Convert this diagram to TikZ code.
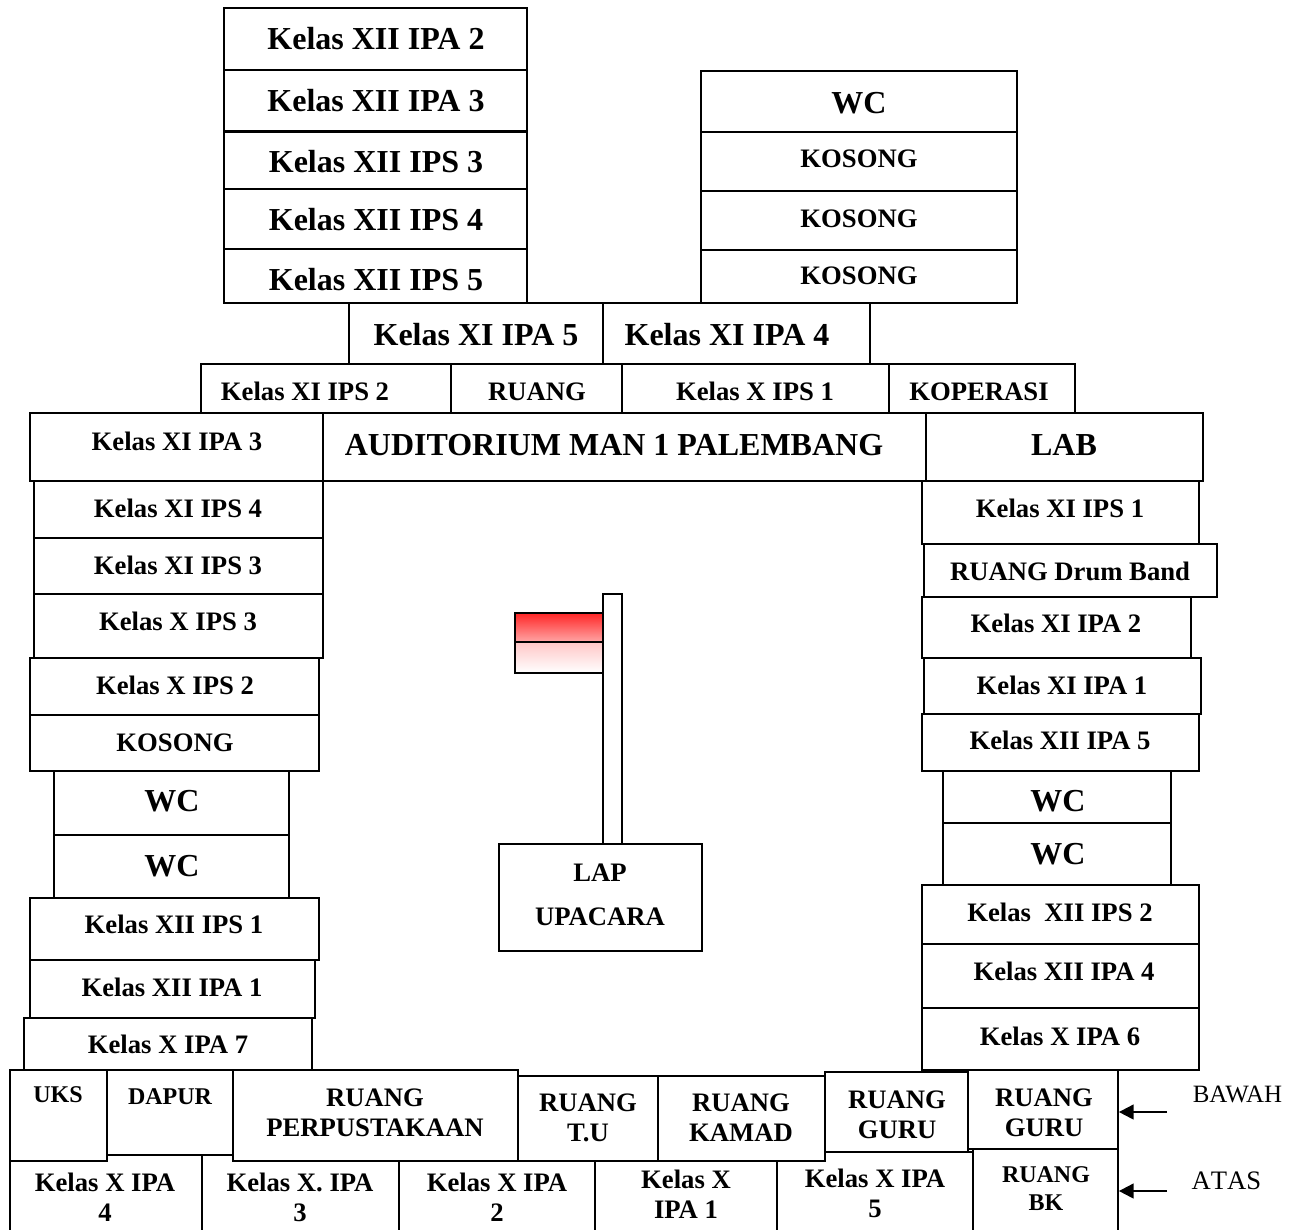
\documentclass[tikz,border=0pt]{standalone}
\usepackage{fontspec}
\usetikzlibrary{arrows.meta}
\setmainfont{Liberation Serif}
\begin{document}
\begin{tikzpicture}[
    x=0.75pt, y=-0.75pt,
    room/.style={rectangle, draw=black, fill=white, line width=1.3pt, inner sep=0pt},
    big/.style={font=\fontsize{24}{27}\selectfont\bfseries, align=center, inner sep=0pt},
    mid/.style={font=\fontsize{20}{22.5}\selectfont\bfseries, align=center, inner sep=0pt},
    tiny/.style={font=\fontsize{18}{21}\selectfont\bfseries, align=center, inner sep=0pt},
    plain/.style={font=\fontsize{18.7}{21}\selectfont, inner sep=0pt},
    plainwide/.style={font=\fontsize{20}{22}\selectfont\addfontfeature{Kerning=Off}, inner sep=0pt},
    pointer/.style={draw=black, line width=1.5pt, -{Triangle[length=11pt,width=11pt]}},
    flagband/.style={draw=black, line width=1.3pt}
]
\useasboundingbox (0,0) rectangle (1299,1229);

% Rooms: name / left / top / right / bottom / text x / text y / size / text
\foreach \nm/\xa/\ya/\xb/\yb/\tx/\ty/\sz/\txt in {
    % Upper floor, the last row runs off the page
    xA/10/1155/202/1240/105/1197/mid/{Kelas X IPA\\4},
    xB/202/1155/399/1240/300/1197/mid/{Kelas X. IPA\\3},
    xD/399/1161/595/1240/497/1197/mid/{Kelas X IPA\\2},
    xE/595/1161/777/1240/686/1194/mid/{Kelas X\\IPA 1},
    xF/777/1152/973/1240/875/1193/mid/{Kelas X IPA\\5},
    bk/973/1149/1118/1240/1046/1188/tiny/{RUANG\\BK},
    % Bottom floor
    uks/10/1070/107/1161/58/1094/tiny/{UKS},
    dapur/107/1070/233/1155/170/1096/tiny/{DAPUR},
    perpus/233/1070/518/1161/375/1112/mid/{RUANG\\PERPUSTAKAAN},
    tu/518/1076/658/1161/588/1117/mid/{RUANG\\T.U},
    kamad/658/1076/825/1161/741/1117/mid/{RUANG\\KAMAD},
    guruA/825/1072/968/1152/897/1114/mid/{RUANG\\GURU},
    guruB/968/1070/1118/1149/1044/1112/mid/{RUANG\\GURU},
    % Upper block, left
    ciiA/224/8/527/70/376/38/big/{Kelas XII IPA 2},
    ciiB/224/70/527/131/376/100/big/{Kelas XII IPA 3},
    ciiC/224/131/527/189/376/161/big/{Kelas XII IPS 3},
    ciiD/224/189/527/249/376/219/big/{Kelas XII IPS 4},
    ciiE/224/249/527/303/376/279/big/{Kelas XII IPS 5},
    % Upper block, right
    wcTop/701/71/1017/132/859/102/big/{WC},
    kosA/701/132/1017/191/859/158/mid/{KOSONG},
    kosB/701/191/1017/250/859/218/mid/{KOSONG},
    kosC/701/250/1017/303/859/275/mid/{KOSONG},
    % Middle rows
    xiA/349/303/603/364/476/334/big/{Kelas XI IPA 5},
    xiB/603/303/870/364/727/334/big/{Kelas XI IPA 4},
    xiC/201/364/451/413/305/391/mid/{Kelas XI IPS 2},
    ruang/451/364/622/413/537/391/mid/{RUANG},
    xC/622/364/889/413/755/391/mid/{Kelas X IPS 1},
    koperasi/889/364/1075/413/979/391/mid/{KOPERASI},
    xiD/30/413/323/481/177/441/mid/{Kelas XI IPA 3},
    auditorium/323/413/926/481/614/444/big/{AUDITORIUM MAN 1 PALEMBANG},
    lab/926/413/1203/481/1064/444/big/{LAB},
    % Left column
    leftA/34/481/323/538/178/508/mid/{Kelas XI IPS 4},
    leftB/34/538/323/594/178/565/mid/{Kelas XI IPS 3},
    leftC/34/594/323/658/178/621/mid/{Kelas X IPS 3},
    leftD/30/658/319/715/175/685/mid/{Kelas X IPS 2},
    leftE/30/715/319/771/175/742/mid/{KOSONG},
    leftF/54/771/289/835/172/800/big/{WC},
    leftG/54/835/289/898/172/865/big/{WC},
    leftH/30/898/319/960/174/924/mid/{Kelas XII IPS 1},
    leftI/30/960/315/1018/172/987/mid/{Kelas XII IPA 1},
    leftJ/24/1018/312/1070/168/1044/mid/{Kelas X IPA 7},
    % Right column
    rightA/922/481/1199/544/1060/508/mid/{Kelas XI IPS 1},
    rightB/924/544/1217/597/1070/571/mid/{RUANG Drum Band},
    rightC/922/597/1191/658/1056/623/mid/{Kelas XI IPA 2},
    rightD/924/658/1201/714/1062/685/mid/{Kelas XI IPA 1},
    rightE/922/714/1199/771/1060/740/mid/{Kelas XII IPA 5},
    rightF/943/771/1171/823/1058/800/big/{WC},
    rightG/943/823/1171/885/1058/853/big/{WC},
    rightH/922/885/1199/944/1060/912/mid/{Kelas\ \ XII IPS 2},
    rightI/922/944/1199/1008/1064/971/mid/{Kelas XII IPA 4},
    rightJ/922/1008/1199/1070/1060/1036/mid/{Kelas X IPA 6},
    % Field
    lap/499/844/702/951/600/894/mid/{LAP\\[0.55em]UPACARA}} {
    \node[room, minimum width={(\xb-\xa)*0.75pt}, minimum height={(\yb-\ya)*0.75pt}]
        (\nm) at ({(\xa+\xb)/2}, {(\ya+\yb)/2}) {};
    \node[\sz] (\nm-t) at (\tx, {\ty+0.7}) {\txt};
}
\draw[line width=2pt] (ciiB.south west) -- (ciiB.south east);

% Flag
\draw[flagband, top color=red!85, bottom color=red!35] (515,613) rectangle (603,642);
\draw[flagband, top color=red!22, bottom color=white] (515,642) rectangle (603,673);
\node[room, minimum width=14.25pt, minimum height=187.5pt] (pole) at (612.5,719) {};

% Floor pointers
\node[plain] (bawah) at (1237.5,1094) {BAWAH};
\node[plainwide] (atas) at (1226.5,1181) {ATAS};
\coordinate (tailBawah) at (1167,1112);
\coordinate (tailAtas) at (1167,1191);
\draw[pointer] (tailBawah) -- (guruB.east |- tailBawah);
\draw[pointer] (tailAtas) -- (bk.east |- tailAtas);

\end{tikzpicture}
\end{document}
